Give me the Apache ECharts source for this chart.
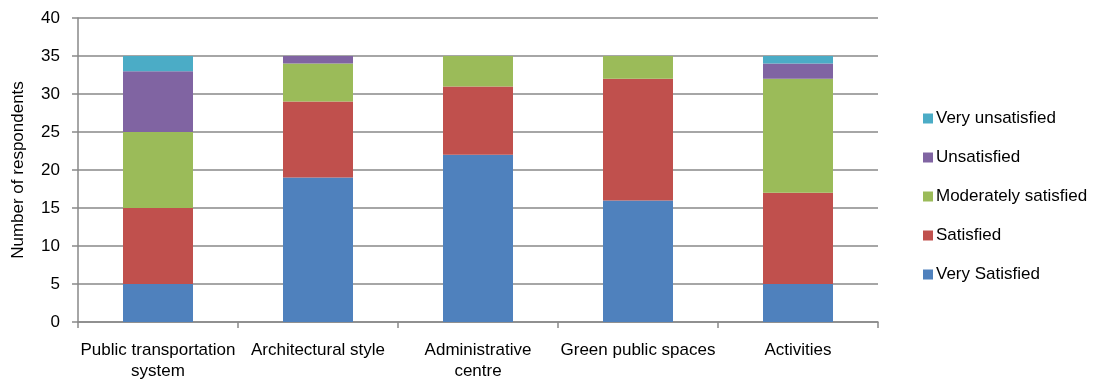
<!DOCTYPE html>
<html><head><meta charset="utf-8">
<script src="https://cdn.jsdelivr.net/npm/echarts@6/dist/echarts.min.js"></script>
<style>html,body{margin:0;padding:0;background:#fff}#c{width:1098px;height:383px}</style>
</head><body><div id="c"></div>
<script>
const categories = ['Public transportation\nsystem', 'Architectural style', 'Administrative\ncentre', 'Green public spaces', 'Activities'];
const verySatisfied = [5, 19, 22, 16, 5];
const satisfied = [10, 10, 9, 16, 12];
const moderatelySatisfied = [10, 5, 4, 3, 15];
const unsatisfied = [8, 1, 0, 0, 2];
const veryUnsatisfied = [2, 0, 0, 0, 1];
const seriesNames = ['Very Satisfied', 'Satisfied', 'Moderately satisfied', 'Unsatisfied', 'Very unsatisfied'];
const colors = ['#4F81BD', '#C0504D', '#9BBB59', '#8064A2', '#4BACC6'];
const yTicks = [0, 5, 10, 15, 20, 25, 30, 35, 40];

const font = 'Liberation Sans, Arial, sans-serif';
const chart = echarts.init(document.getElementById('c'));
const values = [verySatisfied, satisfied, moderatelySatisfied, unsatisfied, veryUnsatisfied];
chart.setOption({
  animation: false,
  textStyle: { fontFamily: font },
  grid: { left: 78, top: 18, width: 800, height: 304, containLabel: false },
  legend: {
    orient: 'vertical', left: 918, top: 105,
    data: seriesNames.slice().reverse(),
    itemWidth: 10, itemHeight: 10, itemGap: 22,
    icon: 'rect',
    textStyle: { fontSize: 17, color: '#000', fontFamily: font, padding: [0, 0, 0, -2] }
  },
  xAxis: {
    type: 'category', data: categories,
    axisLine: { lineStyle: { color: '#898989', width: 1.5 } },
    axisTick: { show: true, length: 6, lineStyle: { color: '#898989', width: 1.5 } },
    axisLabel: { fontSize: 17, color: '#000', margin: 18, lineHeight: 21, interval: 0 }
  },
  yAxis: {
    type: 'value', min: 0, max: 40, interval: 5,
    name: 'Number of respondents', nameLocation: 'middle', nameGap: 51, nameRotate: 90,
    nameTextStyle: { fontSize: 17, color: '#000' },
    axisLine: { show: true, lineStyle: { color: '#898989', width: 1.5 } },
    axisTick: { show: true, length: 6, lineStyle: { color: '#898989', width: 1.5 } },
    splitLine: { lineStyle: { color: '#898989', width: 1.5 } },
    axisLabel: { fontSize: 17, color: '#000', margin: 18 }
  },
  series: seriesNames.map((n, i) => ({
    name: n, type: 'bar', stack: 'total', data: values[i],
    barWidth: 70, itemStyle: { color: colors[i] }
  }))
});
</script></body></html>
